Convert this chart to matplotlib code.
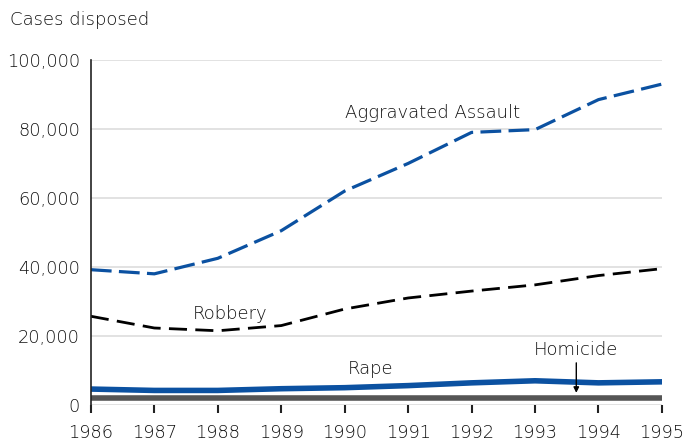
import numpy as np
import matplotlib
matplotlib.use("Agg")
import matplotlib.pyplot as plt
from matplotlib.ticker import FuncFormatter

plt.rcParams['font.family'] = ['DejaVu Sans']
plt.rcParams['font.weight'] = 'light'

years = [1986, 1987, 1988, 1989, 1990, 1991, 1992, 1993, 1994, 1995]
aggravated_assault = [39200, 38000, 42500, 50500, 62000, 70000, 79000, 79800, 88500, 93000]
robbery = [25700, 22300, 21500, 23000, 27800, 31000, 33000, 34800, 37500, 39500]
rape = [4600, 4200, 4200, 4700, 5000, 5600, 6400, 7000, 6400, 6700]
homicide = [2000, 2000, 2000, 2000, 2000, 2000, 2000, 2000, 2000, 2000]

blue = '#0b51a1'
txt = '#111111'

fig = plt.figure(figsize=(6.99, 4.44), dpi=100)
ax = fig.add_axes([0.130, 0.088, 0.817, 0.777])

ax.plot(years, aggravated_assault, color=blue, lw=2.3, dashes=(6.5, 2.3))
ax.plot(years, robbery, color='black', lw=2.0, dashes=(6.5, 3))
ax.plot(years, rape, color=blue, lw=4, solid_capstyle='round')
ax.plot(years, homicide, color='#555555', lw=4, solid_capstyle='round')

ax.set_xlim(1986, 1995)
ax.set_ylim(0, 100000)
ax.set_xticks(years)
ax.set_yticks(range(0, 100001, 20000))
ax.yaxis.set_major_formatter(FuncFormatter(lambda v, p: f'{int(v):,}'))
ax.grid(axis='y', color='#dddddd', lw=1.2)
ax.set_axisbelow(True)

for s in ['top', 'right', 'bottom']:
    ax.spines[s].set_visible(False)
ax.spines['left'].set_color('#222222')
ax.spines['left'].set_linewidth(1.2)

ax.tick_params(axis='y', length=0, pad=8, labelsize=12.8, labelcolor=txt)
ax.tick_params(axis='x', length=6, width=1.5, color='#222222', pad=8, labelsize=12.8, labelcolor=txt)
ax.xaxis.set_ticks_position('bottom')

fig.text(0.014, 0.955, 'Cases disposed', fontsize=13, color=txt, va='center', ha='left')

ax.text(1990.0, 84500, 'Aggravated Assault', fontsize=13, color=txt, va='center', ha='left')
ax.text(1987.6, 26500, 'Robbery', fontsize=13, color=txt, va='center', ha='left')
ax.text(1990.05, 10400, 'Rape', fontsize=13, color=txt, va='center', ha='left')
ax.text(1993.65, 16000, 'Homicide', fontsize=13, color=txt, va='center', ha='center')
ax.annotate('', xy=(1993.65, 2700), xytext=(1993.65, 13000),
            arrowprops=dict(arrowstyle='-|>', color='black', lw=1, mutation_scale=8))

fig.savefig('out.png', dpi=100)
